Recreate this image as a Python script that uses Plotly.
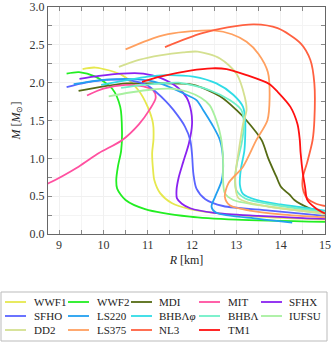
import plotly.graph_objects as go

# ---- data: mass-radius curves (R in km, M in solar masses) ----
names = ["WWF1", "WWF2", "MDI", "MIT", "SFHX", "SFHO", "LS220", "BHBΛ<i>φ</i>", "BHBΛ", "IUFSU", "DD2", "LS375", "NL3", "TM1"]
colors = ["#E6E84E", "#22EE22", "#556B14", "#FF50A0", "#8A22F0", "#5A64FF", "#22A0F0", "#30DCE6", "#70F0C8", "#A8F0A0", "#D4E090", "#FFA060", "#FF6040", "#FF1010"]

wwf1_r = [9.53, 9.82, 10.42, 10.79, 11.0, 11.12, 11.13, 11.1, 11.12, 11.15, 11.28, 11.54, 11.95, 12.5, 13.5, 15.0]
wwf1_m = [2.18, 2.20, 2.10, 1.90, 1.68, 1.46, 1.25, 1.07, 0.85, 0.71, 0.54, 0.41, 0.33, 0.28, 0.23, 0.19]

wwf2_r = [9.17, 9.45, 9.82, 10.2, 10.38, 10.42, 10.4, 10.33, 10.29, 10.31, 10.5, 10.94, 11.95, 13.0, 15.0]
wwf2_m = [2.12, 2.14, 2.08, 1.92, 1.68, 1.35, 1.1, 0.9, 0.71, 0.6, 0.45, 0.33, 0.23, 0.19, 0.16]

mdi_r = [9.44, 10.0, 10.53, 10.98, 11.28, 12.03, 12.63, 13.0, 13.23, 13.57, 13.72, 13.9, 14.01, 14.2, 14.31, 14.65, 15.0]
mdi_m = [1.89, 1.95, 1.99, 1.99, 1.99, 1.97, 1.82, 1.64, 1.5, 1.24, 1.0, 0.76, 0.62, 0.52, 0.45, 0.34, 0.27]

mit_r = [8.3, 8.76, 9.44, 9.9, 10.42, 10.8, 11.05, 11.18, 11.12, 10.9, 10.5, 10.0, 9.63]
mit_m = [0.56, 0.67, 0.89, 1.07, 1.24, 1.45, 1.65, 1.8, 1.9, 1.95, 1.97, 1.92, 1.83]

sfhx_r = [9.46, 9.9, 10.4, 10.9, 11.3, 11.69, 11.88, 11.98, 12.0, 11.93, 11.8, 11.7, 11.65, 11.66, 11.77, 11.96, 12.5, 13.5, 14.5, 15.0]
sfhx_m = [2.05, 2.09, 2.12, 2.12, 2.06, 1.93, 1.8, 1.62, 1.45, 1.2, 0.95, 0.75, 0.58, 0.47, 0.4, 0.34, 0.28, 0.24, 0.21, 0.2]

sfho_r = [9.17, 9.6, 10.16, 10.6, 10.98, 11.2, 11.4, 11.58, 11.84, 11.96, 12.0, 12.03, 12.1, 12.3, 12.7, 13.75, 15.0]
sfho_m = [1.94, 2.0, 2.04, 2.03, 1.97, 1.87, 1.76, 1.64, 1.42, 1.24, 1.05, 0.8, 0.6, 0.46, 0.37, 0.31, 0.24]

ls220_r = [9.33, 9.9, 10.5, 11.0, 11.28, 11.8, 12.1, 12.25, 12.45, 12.63, 12.7, 12.67, 12.52, 12.44, 12.55, 13.5, 14.26]
ls220_m = [1.98, 2.03, 2.05, 2.03, 1.99, 1.86, 1.77, 1.64, 1.45, 1.24, 0.98, 0.71, 0.49, 0.36, 0.28, 0.2, 0.15]

bhbphi_r = [9.95, 10.5, 11.0, 11.4, 12.03, 12.55, 12.93, 13.15, 13.2, 13.2, 13.18, 13.1, 13.08, 13.15, 13.45, 14.0, 15.0]
bhbphi_m = [1.97, 2.03, 2.08, 2.1, 2.08, 1.99, 1.84, 1.68, 1.5, 1.3, 1.1, 0.85, 0.65, 0.53, 0.45, 0.39, 0.31]

bhb_r = [10.4, 10.9, 11.3, 11.7, 12.4, 12.85, 13.11, 13.17, 13.12, 13.02, 12.97, 13.0, 13.2, 13.8, 15.0]
bhb_m = [1.93, 1.97, 1.99, 2.0, 1.9, 1.77, 1.64, 1.45, 1.2, 0.95, 0.75, 0.58, 0.47, 0.39, 0.29]

iufsu_r = [10.12, 10.6, 11.1, 11.5, 11.9, 12.2, 12.4, 12.55, 12.65, 12.7, 12.7, 12.74, 12.93, 13.75, 15.0]
iufsu_m = [1.82, 1.87, 1.91, 1.92, 1.88, 1.8, 1.7, 1.5, 1.28, 1.0, 0.72, 0.54, 0.45, 0.36, 0.27]

dd2_r = [10.35, 10.8, 11.28, 11.8, 12.13, 12.63, 13.0, 13.19, 13.23, 13.15, 13.08, 13.0, 12.97, 13.04, 13.3, 13.75, 15.0]
dd2_m = [2.21, 2.3, 2.36, 2.4, 2.41, 2.32, 2.12, 1.81, 1.64, 1.45, 1.2, 0.89, 0.71, 0.48, 0.41, 0.36, 0.27]

ls375_r = [10.5, 11.0, 11.46, 12.0, 12.48, 12.9, 13.23, 13.5, 13.71, 13.75, 13.7, 13.45, 13.15, 12.82, 12.74, 12.85, 13.3, 14.0, 15.0]
ls375_m = [2.44, 2.56, 2.64, 2.68, 2.69, 2.64, 2.54, 2.38, 2.14, 1.8, 1.5, 1.24, 0.89, 0.67, 0.49, 0.38, 0.31, 0.26, 0.22]

nl3_r = [11.39, 12.21, 12.8, 13.4, 13.93, 14.45, 14.67, 14.76, 14.76, 14.72, 14.6, 14.5, 14.5, 14.6, 14.8, 15.0]
nl3_m = [2.47, 2.65, 2.73, 2.77, 2.72, 2.52, 2.3, 1.99, 1.5, 1.24, 0.95, 0.75, 0.6, 0.47, 0.4, 0.37]

tm1_r = [10.87, 11.28, 11.96, 12.45, 12.78, 13.23, 13.75, 13.93, 14.22, 14.38, 14.43, 14.45, 14.5, 14.55, 14.6, 14.79, 15.0]
tm1_m = [2.01, 2.08, 2.16, 2.19, 2.18, 2.1, 1.98, 1.88, 1.68, 1.45, 1.25, 1.07, 0.8, 0.62, 0.45, 0.34, 0.27]

curves = [(wwf1_r, wwf1_m), (wwf2_r, wwf2_m), (mdi_r, mdi_m), (mit_r, mit_m), (sfhx_r, sfhx_m),
          (sfho_r, sfho_m), (ls220_r, ls220_m), (bhbphi_r, bhbphi_m), (bhb_r, bhb_m), (iufsu_r, iufsu_m),
          (dd2_r, dd2_m), (ls375_r, ls375_m), (nl3_r, nl3_m), (tm1_r, tm1_m)]

serif = "Liberation Serif"
W, H = 336, 342
ML, MR, MT, MB = 48, 11, 7, 108
PW, PH = W - ML - MR, H - MT - MB


def px_to_paper(px, py):
    return (px - ML) / PW, (H - MB - py) / PH


fig = go.Figure()
for name, col, (r, m) in zip(names, colors, curves):
    fig.add_trace(go.Scatter(x=r, y=m, mode="lines", name=name, showlegend=False,
                             line=dict(color=col, width=1.8, shape="spline", smoothing=0.8)))

# ---- legend (5 columns x 3 rows) drawn below the plot ----
col_line_x = [5, 68, 131, 199, 261]
col_text_x = [32, 95, 157, 226, 287]
row_y = [302, 316, 330]
shapes = []
annotations = []
bx0, by0 = px_to_paper(1, 341)
bx1, by1 = px_to_paper(327, 292)
shapes.append(dict(type="rect", xref="paper", yref="paper", x0=bx0, y0=by0, x1=bx1, y1=by1,
                   line=dict(color="#bbbbbb", width=1), fillcolor="rgba(0,0,0,0)", layer="above"))
for i, (name, col) in enumerate(zip(names, colors)):
    c, rrow = i % 5, i // 5
    lx0, ly = px_to_paper(col_line_x[c], row_y[rrow])
    lx1, _ = px_to_paper(col_line_x[c] + 21, row_y[rrow])
    shapes.append(dict(type="line", xref="paper", yref="paper", x0=lx0, x1=lx1, y0=ly, y1=ly,
                       line=dict(color=col, width=1.8), layer="above"))
    tx, ty = px_to_paper(col_text_x[c], row_y[rrow])
    annotations.append(dict(text=name, xref="paper", yref="paper", x=tx, y=ty,
                            xanchor="left", yanchor="middle", showarrow=False,
                            font=dict(family=serif, size=11, color="#222222")))

axis_common = dict(
    showline=True, linecolor="#666666", linewidth=1, mirror="ticks",
    ticks="inside", ticklen=4, tickcolor="#888888",
    showgrid=True, gridcolor="#f0f0f0", gridwidth=1, zeroline=False,
    tickfont=dict(family=serif, size=12, color="#333333"),
)

fig.update_layout(
    width=W, height=H,
    margin=dict(l=ML, r=MR, t=MT, b=MB, autoexpand=False),
    paper_bgcolor="white", plot_bgcolor="white",
    font=dict(family=serif, size=12, color="#222222"),
    showlegend=False,
    shapes=shapes,
    annotations=annotations,
)
fig.update_xaxes(range=[8.75, 15], tick0=9, dtick=1,
                 minor=dict(dtick=0.5, ticks="inside", ticklen=4, tickcolor="#888888", showgrid=True, gridcolor="#f4f4f4"),
                 title=dict(text="<i>R</i> [km]", standoff=4, font=dict(family=serif, size=12)),
                 **axis_common)
fig.update_yaxes(range=[0, 3], tick0=0, dtick=0.5, tickformat=".1f",
                 minor=dict(dtick=0.25, ticks="inside", ticklen=4, tickcolor="#888888", showgrid=True, gridcolor="#f4f4f4"),
                 title=dict(text="<i>M</i> [<i>M</i><sub>⊙</sub>]", standoff=6, font=dict(family=serif, size=12)),
                 **axis_common)

fig.write_html("out.html", config={"displayModeBar": False},
               post_script="document.body.style.margin='0';")
